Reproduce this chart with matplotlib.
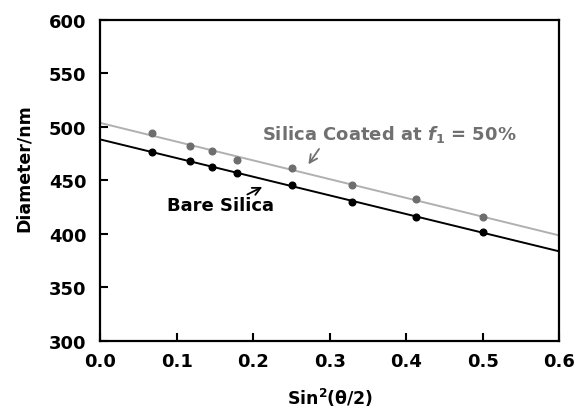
import numpy as np
import matplotlib.pyplot as plt

plt.rcParams['font.family'] = 'DejaVu Sans'
plt.rcParams['font.weight'] = 'bold'
plt.rcParams['mathtext.fontset'] = 'dejavusans'

# sin^2(theta/2) for theta = 30..90 deg
sin2 = [0.067, 0.117, 0.146, 0.179, 0.250, 0.329, 0.413, 0.500]
bare_silica = [476.2, 468.1, 462.8, 456.9, 446.0, 429.5, 416.0, 401.4]
coated_silica = [494.6, 482.4, 477.2, 469.0, 461.8, 445.7, 432.6, 415.4]

xticks = [0.0, 0.1, 0.2, 0.3, 0.4, 0.5, 0.6]
yticks = [300, 350, 400, 450, 500, 550, 600]

fig = plt.figure(figsize=(5.77, 4.10), dpi=100)
ax = fig.add_axes([0.1738, 0.1666, 0.7955, 0.7822])

xline = np.array([0.0, 0.6])
for y, col, mcol in [(bare_silica, 'black', 'black'),
                     (coated_silica, '#b0b0b0', '#6e6e6e')]:
    k, b = np.polyfit(sin2, y, 1)
    ax.plot(xline, k * xline + b, color=col, linewidth=1.4, zorder=2)
    ax.plot(sin2, y, 'o', color=mcol, markersize=4.8, zorder=3)

ax.set_xlim(0, 0.6)
ax.set_ylim(300, 600)
ax.set_xticks(xticks)
ax.set_yticks(yticks)
ax.set_xticklabels([f'{v:.1f}' for v in xticks])
ax.tick_params(direction='in', length=6, width=1.5, labelsize=13, pad=8)
ax.tick_params(axis='y', pad=10)
for s in ax.spines.values():
    s.set_linewidth(1.6)

ax.set_xlabel('Sin$^\\mathbf{2}$(θ/2)', fontsize=12.5, fontweight='bold')
ax.xaxis.set_label_coords(0.5, -0.14)
ax.set_ylabel('Diameter/nm', fontsize=12.5, fontweight='bold')
ax.yaxis.set_label_coords(-0.147, 0.54)

ax.text(0.211, 493.4, r'Silica Coated at $\mathit{f}_\mathbf{1}$ = 50%', color='#707070',
        fontsize=13, fontweight='bold', va='center', ha='left')
ax.annotate('', xy=(0.270, 462.8), xytext=(0.288, 481.5),
            arrowprops=dict(arrowstyle='->', color='#707070', lw=1.3,
                            mutation_scale=14))

ax.text(0.0876, 426.9, 'Bare Silica', color='black', fontsize=13, fontweight='bold',
        va='center', ha='left')
ax.annotate('', xy=(0.215, 445.0), xytext=(0.189, 435.6),
            arrowprops=dict(arrowstyle='->', color='black', lw=1.3,
                            mutation_scale=14))

fig.savefig('out.png', dpi=100)
